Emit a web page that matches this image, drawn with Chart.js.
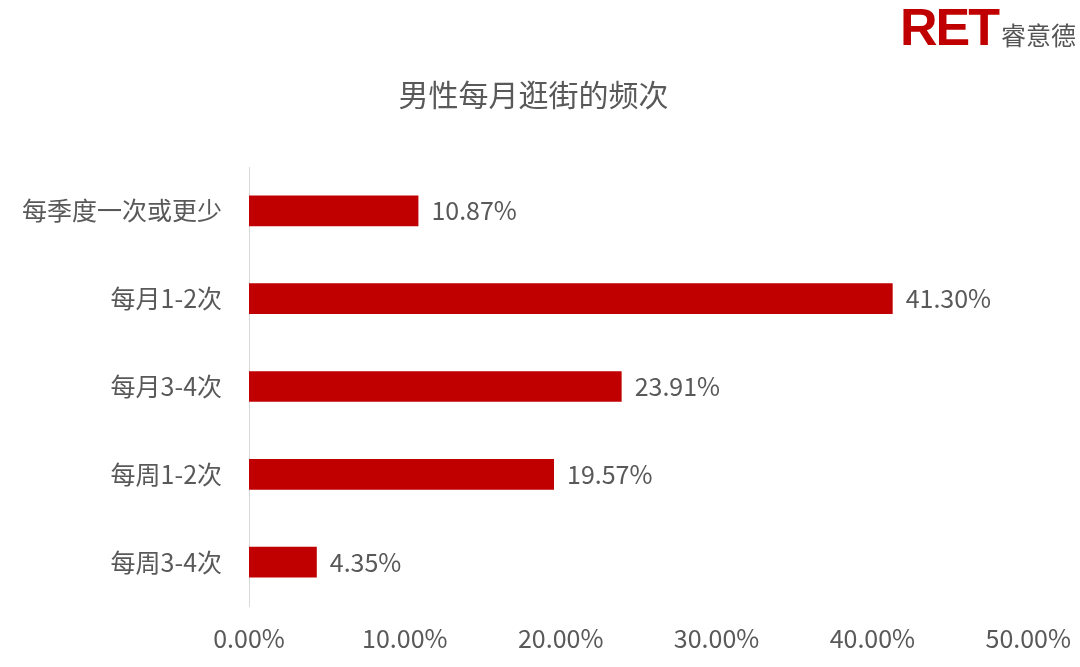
<!DOCTYPE html>
<html>
<head>
<meta charset="utf-8">
<script src="https://cdn.jsdelivr.net/npm/chart.js@4"></script>
<style>
  body { margin: 0; background: #fff; }
  #wrap { position: relative; width: 1080px; height: 667px; }
  #logo { position: absolute; right: 4px; top: -3px; color: #c00000; font-family: "Liberation Sans", Arial, sans-serif; white-space: nowrap; }
  #logo b { font-size: 52px; letter-spacing: -2px; font-weight: bold; }
  #logo span { font-family: "Noto Sans CJK SC", sans-serif; font-size: 25px; color: #555; margin-left: 3px; }
</style>
</head>
<body>
<div id="wrap">
  <canvas id="myChart" width="1080" height="667"></canvas>
  <div id="logo"><b>RET</b><span>睿意德</span></div>
</div>
<script>
var categories = ["每季度一次或更少", "每月1-2次", "每月3-4次", "每周1-2次", "每周3-4次"];
var values = [10.87, 41.30, 23.91, 19.57, 4.35];
var xTicks = [0, 10, 20, 30, 40, 50];
var chartTitle = "男性每月逛街的频次";

var fontFam = '"Noto Sans CJK SC", "Open Sans", sans-serif';
var textColor = "#595959";

// data labels at bar end
var valueLabels = {
    id: 'valueLabels',
    afterDatasetsDraw: function (chart) {
        var ctx = chart.ctx;
        var meta = chart.getDatasetMeta(0);
        ctx.save();
        ctx.font = '25px ' + fontFam;
        ctx.fillStyle = textColor;
        ctx.textAlign = 'left';
        ctx.textBaseline = 'middle';
        meta.data.forEach(function (bar, i) {
            ctx.fillText(values[i].toFixed(2) + '%', bar.x + 13, bar.y);
        });
        ctx.restore();
    }
};

new Chart("myChart", {
    type: "bar",
    data: {
        labels: categories,
        datasets: [{
            data: values,
            backgroundColor: "#c00000",
            barPercentage: 0.35,
            categoryPercentage: 1
        }]
    },
    options: {
        indexAxis: 'y',
        responsive: false,
        animation: false,
        layout: { padding: { left: 3, right: 16, top: 0, bottom: 5 } },
        plugins: {
            legend: { display: false },
            tooltip: { enabled: false },
            title: {
                display: true,
                text: chartTitle,
                color: textColor,
                font: { family: fontFam, size: 30, weight: 'normal' },
                padding: { top: 77, bottom: 54 }
            }
        },
        scales: {
            x: {
                min: 0,
                max: 50,
                afterBuildTicks: function (axis) {
                    axis.ticks = xTicks.map(function (v) { return { value: v }; });
                },
                grid: { display: false },
                border: { display: false },
                ticks: {
                    color: textColor,
                    font: { family: fontFam, size: 25 },
                    padding: 9,
                    callback: function (v) { return Number(v).toFixed(2) + '%'; }
                }
            },
            y: {
                grid: { display: false },
                border: { display: true, color: "#d9d9d9", width: 1 },
                ticks: {
                    color: textColor,
                    font: { family: fontFam, size: 25 },
                    padding: 19
                }
            }
        }
    },
    plugins: [valueLabels]
});
</script>
</body>
</html>
